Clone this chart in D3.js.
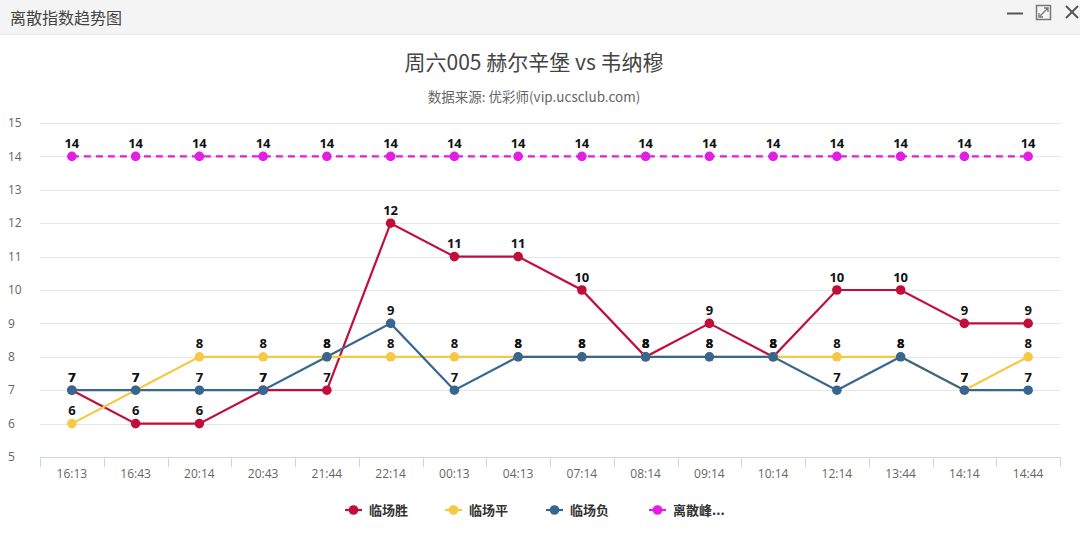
<!DOCTYPE html>
<html>
<head>
<meta charset="utf-8">
<script src="https://cdn.jsdelivr.net/npm/d3@7"></script>
<style>
  body { margin: 0; background: #fff; font-family: "Noto Sans CJK SC", "Open Sans", sans-serif; }
  svg { display: block; }
</style>
</head>
<body>
<svg id="chart"></svg>
<script>
// data
let categories = ["16:13", "16:43", "20:14", "20:43", "21:44", "22:14", "00:13", "04:13",
                  "07:14", "08:14", "09:14", "10:14", "12:14", "13:44", "14:14", "14:44"]
let winValues  = [7, 6, 6, 7, 7, 12, 11, 11, 10, 8, 9, 8, 10, 10, 9, 9]
let drawValues = [6, 7, 8, 8, 8, 8, 8, 8, 8, 8, 8, 8, 8, 8, 7, 8]
let loseValues = [7, 7, 7, 7, 8, 9, 7, 8, 8, 8, 8, 8, 7, 8, 7, 7]
let peakValues = [14, 14, 14, 14, 14, 14, 14, 14, 14, 14, 14, 14, 14, 14, 14, 14]
let seriesNames = ["临场胜", "临场平", "临场负", "离散峰..."]
let yTicks = [5, 6, 7, 8, 9, 10, 11, 12, 13, 14, 15]

let width = 1080
let height = 537
let series = [
    { name: seriesNames[0], values: winValues,  color: "#c10f3b", dash: null },
    { name: seriesNames[1], values: drawValues, color: "#f5c845", dash: null },
    { name: seriesNames[2], values: loseValues, color: "#376690", dash: null },
    { name: seriesNames[3], values: peakValues, color: "#e31de3", dash: "7,5" }
]

let svg = d3.select("#chart").attr("width", width).attr("height", height)

// window header
svg.append("rect").attr("x", 0).attr("y", 0).attr("width", width).attr("height", 34).attr("fill", "#f4f4f4")
svg.append("line").attr("x1", 0).attr("x2", width).attr("y1", 34.5).attr("y2", 34.5).attr("stroke", "#e8e8e8")
svg.append("text").attr("x", 10).attr("y", 18).attr("dy", "0.35em")
   .attr("font-size", 16).attr("fill", "#444").text("离散指数趋势图")
// header icons
svg.append("line").attr("x1", 1007).attr("x2", 1023).attr("y1", 13.5).attr("y2", 13.5)
   .attr("stroke", "#555").attr("stroke-width", 2)
svg.append("rect").attr("x", 1036.5).attr("y", 5.5).attr("width", 14).attr("height", 14)
   .attr("fill", "none").attr("stroke", "#777").attr("stroke-width", 1.5)
svg.append("path").attr("d", "M1040,16 L1048,8 M1044,8 L1048,8 L1048,12 M1039,13 L1039,17 L1043,17")
   .attr("fill", "none").attr("stroke", "#777").attr("stroke-width", 1.3)
svg.append("path").attr("d", "M1066,6 L1078,18 M1078,6 L1066,18")
   .attr("stroke", "#555").attr("stroke-width", 1.8)

// chart titles
svg.append("text").attr("x", 534).attr("y", 63).attr("dy", "0.35em").attr("text-anchor", "middle")
   .attr("font-size", 21).attr("fill", "#444").text("周六005 赫尔辛堡 vs 韦纳穆")
svg.append("text").attr("x", 534).attr("y", 97).attr("dy", "0.35em").attr("text-anchor", "middle")
   .attr("font-size", 13.5).attr("fill", "#666").text("数据来源: 优彩师(vip.ucsclub.com)")

let X = d3.scaleBand().domain(categories).range([40, 1060])
let Y = d3.scaleLinear().domain([5, 15]).range([457, 123])
let cx = (c) => X(c) + X.bandwidth() / 2

// grid lines
svg.append("g").selectAll("line").data(yTicks.slice(1)).enter().append("line")
   .attr("x1", 40).attr("x2", 1060)
   .attr("y1", d => Math.round(Y(d)) + 0.5).attr("y2", d => Math.round(Y(d)) + 0.5)
   .attr("stroke", "#e6e6e6")

// y labels
svg.append("g").selectAll("text").data(yTicks).enter().append("text")
   .attr("x", 8).attr("y", d => Y(d)).attr("dy", "0.35em")
   .attr("font-size", 12).attr("fill", "#666").attr("font-family", "Open Sans, sans-serif")
   .text(d => d)

// x axis
let xaxis = d3.axisBottom(X).tickSize(0).tickPadding(12)
let gx = svg.append("g").attr("transform", "translate(0,457)").call(xaxis)
gx.select(".domain").attr("stroke", "#ccd6eb")
gx.selectAll("text").attr("font-size", 12).attr("fill", "#666").attr("font-family", "Open Sans, sans-serif")
let bounds = categories.map(c => X(c)).concat([X.range()[1]])
gx.selectAll("line.tick-mark").data(bounds).enter().append("line").attr("class", "tick-mark")
  .attr("x1", d => Math.round(d) + 0.5).attr("x2", d => Math.round(d) + 0.5)
  .attr("y1", 0).attr("y2", 10).attr("stroke", "#ccd6eb")

// lines
let line = d3.line().x((d, i) => cx(categories[i])).y(d => Y(d))
series.forEach(s => {
    let g = svg.append("g")
    g.append("path").attr("d", line(s.values)).attr("fill", "none")
     .attr("stroke", s.color).attr("stroke-width", 2.2)
     .attr("stroke-dasharray", s.dash)
    g.selectAll("circle").data(s.values).enter().append("circle")
     .attr("cx", (d, i) => cx(categories[i])).attr("cy", d => Y(d))
     .attr("r", 4.8).attr("fill", s.color)
})

// data labels
series.forEach(s => {
    svg.append("g").selectAll("text").data(s.values).enter().append("text")
       .attr("x", (d, i) => cx(categories[i])).attr("y", d => Y(d) - 13)
       .attr("dy", "0.35em").attr("text-anchor", "middle")
       .attr("font-size", 13).attr("font-weight", "bold").attr("fill", "#111")
       .attr("font-family", "Open Sans, sans-serif")
       .text(d => d)
})

// legend
let legendX = [345, 445, 546, 649]
series.forEach((s, i) => {
    let g = svg.append("g").attr("transform", "translate(" + legendX[i] + ",510)")
    g.append("line").attr("x1", 0).attr("x2", 17).attr("y1", 0).attr("y2", 0)
     .attr("stroke", s.color).attr("stroke-width", 2.2)
    g.append("circle").attr("cx", 8.5).attr("cy", 0).attr("r", 4.8).attr("fill", s.color)
    g.append("text").attr("x", 24).attr("y", 0).attr("dy", "0.35em")
     .attr("font-size", 13).attr("font-weight", "bold").attr("fill", "#333")
     .text(s.name)
})
</script>
</body>
</html>
